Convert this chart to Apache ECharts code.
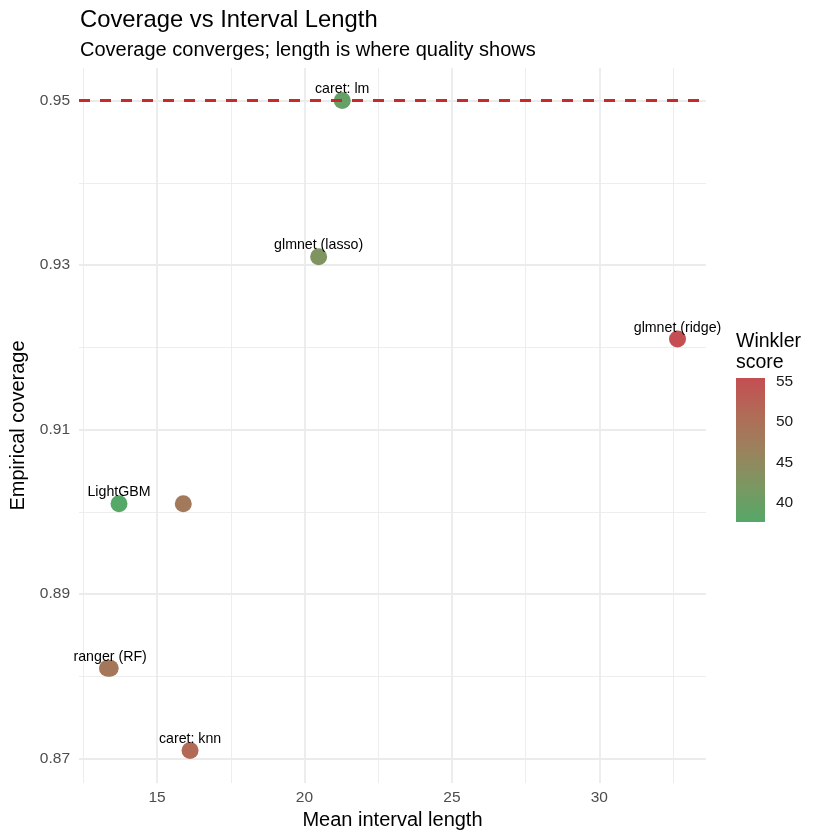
<!DOCTYPE html>
<html>
<head>
<meta charset="utf-8">
<script src="https://cdn.jsdelivr.net/npm/echarts@6/dist/echarts.min.js"></script>
<style>
  html, body { margin: 0; padding: 0; background: #fff; }
  #chart { width: 840px; height: 840px; }
</style>
</head>
<body>
<div id="chart"></div>
<script>
// data
const pointLabels = ['caret: lm', 'glmnet (lasso)', 'glmnet (ridge)', 'LightGBM', '', 'ranger (RF)', '', 'caret: knn']
const intervalLength = [21.28, 20.48, 32.65, 13.71, 15.89, 13.41, 13.32, 16.12]
const coverage = [0.950, 0.931, 0.921, 0.901, 0.901, 0.881, 0.881, 0.871]
const winkler = [39.4, 42.6, 55.5, 37.56, 48.0, 48.3, 48.6, 51.2]
const targetCoverage = 0.95

const xMajorTicks = [15, 20, 25, 30]
const xMinorTicks = [12.5, 17.5, 22.5, 27.5, 32.5]
const yMajorTicks = [0.87, 0.89, 0.91, 0.93, 0.95]
const yMinorTicks = [0.88, 0.90, 0.92, 0.94]
const winklerTicks = [40, 45, 50, 55]
const gradientColors = ['#55A868', '#7B9762', '#9B825D', '#B16B57', '#C44E52']

const FONT = '"Liberation Sans", Arial, sans-serif'

// ggplot style 5% expansion of the data range
function expandRange(values) {
  const lo = Math.min(...values)
  const hi = Math.max(...values)
  const pad = (hi - lo) * 0.05
  return [lo - pad, hi + pad]
}

const xRange = expandRange(intervalLength)
const yRange = expandRange(coverage.concat([targetCoverage]))
const wMin = Math.min(...winkler)
const wMax = Math.max(...winkler)

const gridLines = []
xMajorTicks.forEach(v => gridLines.push({ xAxis: v, lineStyle: { width: 1.8 } }))
xMinorTicks.forEach(v => gridLines.push({ xAxis: v, lineStyle: { width: 0.9 } }))
yMajorTicks.forEach(v => gridLines.push({ yAxis: v, lineStyle: { width: 1.8 } }))
yMinorTicks.forEach(v => gridLines.push({ yAxis: v, lineStyle: { width: 0.9 } }))

const chart = echarts.init(document.getElementById('chart'))

chart.setOption({
  animation: false,
  textStyle: { fontFamily: FONT },
  title: {
    text: 'Coverage vs Interval Length',
    subtext: 'Coverage converges; length is where quality shows',
    left: 80,
    top: 7,
    padding: 0,
    itemGap: 4,
    textStyle: { fontSize: 23.8, fontWeight: 'normal', color: '#000', lineHeight: 27, fontFamily: FONT },
    subtextStyle: { fontSize: 20, color: '#000', lineHeight: 24, fontFamily: FONT }
  },
  grid: [
    { left: 79, right: 134, top: 68, bottom: 57 },
    { left: 736, width: 29, top: 378, height: 144 }
  ],
  visualMap: {
    show: false,
    type: 'continuous',
    seriesIndex: 0,
    dimension: 2,
    min: wMin,
    max: wMax,
    inRange: { color: gradientColors }
  },
  xAxis: [
    {
      type: 'value',
      gridIndex: 0,
      min: xRange[0],
      max: xRange[1],
      name: 'Mean interval length',
      nameLocation: 'middle',
      nameGap: 27,
      nameTextStyle: { fontSize: 20, color: '#000' },
      axisLine: { show: false },
      axisTick: { show: false, customValues: xMajorTicks },
      axisLabel: { customValues: xMajorTicks, fontSize: 15.5, color: '#4D4D4D', margin: 7 },
      splitLine: { show: false }
    },
    { type: 'category', gridIndex: 1, data: [''], show: false }
  ],
  yAxis: [
    {
      type: 'value',
      gridIndex: 0,
      min: yRange[0],
      max: yRange[1],
      name: 'Empirical coverage',
      nameLocation: 'middle',
      nameGap: 51,
      nameTextStyle: { fontSize: 20, color: '#000' },
      axisLine: { show: false },
      axisTick: { show: false, customValues: yMajorTicks },
      axisLabel: {
        customValues: yMajorTicks,
        fontSize: 15.5,
        color: '#4D4D4D',
        margin: 9,
        formatter: v => v.toFixed(2)
      },
      splitLine: { show: false }
    },
    {
      type: 'value',
      gridIndex: 1,
      min: wMin,
      max: wMax,
      position: 'right',
      axisLine: { show: false },
      axisTick: { show: true, inside: true, length: 6, lineStyle: { color: '#fff', width: 1 }, customValues: winklerTicks },
      axisLabel: { customValues: winklerTicks, fontSize: 15.5, color: '#1a1a1a', margin: 11 },
      splitLine: { show: false }
    },
    {
      type: 'value',
      gridIndex: 1,
      min: wMin,
      max: wMax,
      position: 'left',
      name: 'Winkler\nscore',
      nameLocation: 'end',
      nameGap: 5,
      nameTextStyle: { fontSize: 19.5, color: '#000', align: 'left', verticalAlign: 'bottom', lineHeight: 21 },
      axisLine: { show: false },
      axisTick: { show: true, inside: true, length: 6, lineStyle: { color: '#fff', width: 1 }, customValues: winklerTicks },
      axisLabel: { show: false },
      splitLine: { show: false }
    }
  ],
  series: [
    {
      type: 'scatter',
      xAxisIndex: 0,
      yAxisIndex: 0,
      z: 3,
      symbolSize: 17,
      data: intervalLength.map((x, i) => [x, coverage[i], winkler[i], pointLabels[i]]),
      itemStyle: { opacity: 1 },
      label: {
        show: true,
        position: 'top',
        distance: -4,
        fontSize: 14.2,
        color: '#000',
        formatter: p => p.data[3]
      },
      emphasis: { disabled: true }
    },
    {
      type: 'line',
      xAxisIndex: 0,
      yAxisIndex: 0,
      z: 1,
      data: [],
      markLine: {
        silent: true,
        z: 1,
        symbol: ['none', 'none'],
        label: { show: false },
        lineStyle: { color: '#EBEBEB', type: 'solid' },
        data: gridLines
      }
    },
    {
      type: 'line',
      xAxisIndex: 0,
      yAxisIndex: 0,
      z: 4,
      data: [],
      markLine: {
        silent: true,
        z: 4,
        symbol: ['none', 'none'],
        label: { show: false },
        lineStyle: { color: '#C62A2A', type: [11, 10], width: 2.8 },
        data: [{ yAxis: targetCoverage }]
      }
    },
    {
      type: 'bar',
      xAxisIndex: 1,
      yAxisIndex: 1,
      stack: 'bar',
      barWidth: '100%',
      silent: true,
      itemStyle: { color: 'rgba(0,0,0,0)' },
      data: [wMin]
    },
    {
      type: 'bar',
      xAxisIndex: 1,
      yAxisIndex: 1,
      stack: 'bar',
      barWidth: '100%',
      silent: true,
      itemStyle: {
        color: {
          type: 'linear',
          x: 0, y: 1, x2: 0, y2: 0,
          colorStops: gradientColors.map((c, i) => ({ offset: i / (gradientColors.length - 1), color: c }))
        }
      },
      data: [wMax - wMin]
    }
  ]
})
</script>
</body>
</html>
